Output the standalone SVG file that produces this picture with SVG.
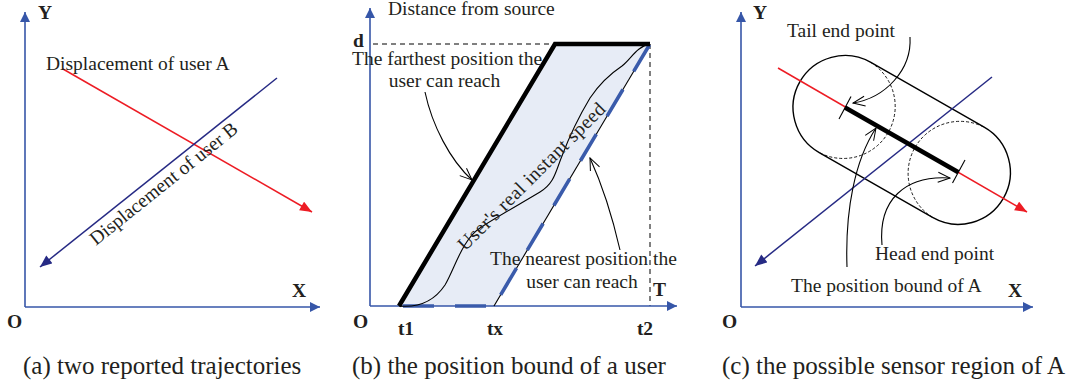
<svg xmlns="http://www.w3.org/2000/svg" width="1073" height="392" viewBox="0 0 1073 392">
<style>
.t{font-family:"Liberation Serif","Times New Roman",serif;font-size:19.5px;fill:#231f20}
.b{font-weight:bold}
.cap{font-size:25px}
.axis{stroke:#3656a8;stroke-width:1.6;fill:none}
.red{stroke:#ed1c24;stroke-width:1.5;fill:none}
.navy{stroke:#262a84;stroke-width:1.5;fill:none}
.thin{stroke:#000;stroke-width:1.1;fill:none}
.dash{stroke:#000;stroke-width:1;fill:none;stroke-dasharray:5 4}
</style>
<defs>
<marker id="ax" viewBox="0 0 10 10" refX="10" refY="5" markerWidth="11" markerHeight="10" markerUnits="userSpaceOnUse" orient="auto"><path d="M0,0 L10,5 L0,10 z" fill="#3656a8"/></marker>
<marker id="ar" viewBox="0 0 12 10" refX="12" refY="5" markerWidth="13" markerHeight="10" markerUnits="userSpaceOnUse" orient="auto"><path d="M0,0 L12,5 L0,10 z" fill="#ed1c24"/></marker>
<marker id="an" viewBox="0 0 12 10" refX="12" refY="5" markerWidth="13" markerHeight="10" markerUnits="userSpaceOnUse" orient="auto"><path d="M0,0 L12,5 L0,10 z" fill="#262a84"/></marker>
<marker id="ov" viewBox="-1 -1 14 12" refX="12" refY="5" markerWidth="14" markerHeight="12" markerUnits="userSpaceOnUse" orient="auto"><path d="M0,0 L12,5 L0,10" fill="none" stroke="#000" stroke-width="1"/></marker>
</defs>
<rect width="1073" height="392" fill="#fff"/>

<!-- Panel (a) -->
<g id="panel-a">
  <g id="a-axes">
    <line class="axis" x1="25" y1="307" x2="25" y2="12" marker-end="url(#ax)"/>
    <line class="axis" x1="25" y1="307" x2="320" y2="307" marker-end="url(#ax)"/>
    <text class="t b" x="38" y="19" font-size="20">Y</text>
    <text class="t b" x="292" y="297" font-size="20">X</text>
    <text class="t b" x="7" y="328" font-size="17">O</text>
  </g>
  <g id="a-connectors">
    <line class="red" x1="63" y1="69" x2="312" y2="212" marker-end="url(#ar)"/>
    <line class="navy" x1="277" y1="78" x2="40" y2="267" marker-end="url(#an)"/>
  </g>
  <g id="a-labelA"><text class="t" x="46" y="70">Displacement of user A</text></g>
  <g id="a-labelB"><text class="t" transform="translate(96,246) rotate(-38.7)">Displacement of user B</text></g>
  <g id="a-caption"><text class="t cap" x="23" y="374">(a) two reported trajectories</text></g>
</g>

<!-- Panel (b) -->
<g id="panel-b">
  <g id="b-region">
    <polygon points="399,306 555,44 650,44 494,306" fill="#e7ecf6"/>
  </g>
  <g id="b-guides">
    <line class="dash" x1="373" y1="44" x2="650" y2="44"/>
    <line class="dash" x1="650" y1="44" x2="650" y2="306"/>
  </g>
  <g id="b-axes">
    <line class="axis" x1="370" y1="306" x2="370" y2="8" marker-end="url(#ax)"/>
    <line class="axis" x1="370" y1="306" x2="677" y2="306" marker-end="url(#ax)"/>
    <text class="t" x="388" y="15">Distance from source</text>
    <text class="t b" x="353" y="47" font-size="18">d</text>
    <text class="t b" x="653" y="296" font-size="18">T</text>
    <text class="t b" x="353" y="328" font-size="17">O</text>
    <text class="t b" x="406" y="335" font-size="19" text-anchor="middle">t1</text>
    <text class="t b" x="495" y="335" font-size="19" text-anchor="middle">tx</text>
    <text class="t b" x="645" y="335" font-size="19" text-anchor="middle">t2</text>
  </g>
  <g id="b-bounds">
    <line class="thin" x1="494" y1="306" x2="650" y2="44"/>
    <path d="M399,306 L494,306 L650,44" fill="none" stroke="#3a5bab" stroke-width="3.6" stroke-dasharray="31 21" stroke-dashoffset="48"/>
    <path d="M399,306 L555,44 L650,44" fill="none" stroke="#000" stroke-width="4.5" stroke-linejoin="miter"/>
  </g>
  <g id="b-speed-curve">
    <path class="thin" d="M399,306 C420,308 435,300 445,285 C455,268 462,240 480,228 C495,218 520,204 540,192 C555,183 556,170 562,156 C568,140 578,118 590,98 C598,86 610,74 622,66 C632,58 636,47 650,44"/>
    <text class="t" transform="translate(536,181) rotate(-45)" text-anchor="middle" textLength="200" lengthAdjust="spacing">User's real instant speed</text>
  </g>
  <g id="b-farthest">
    <text class="t" x="352" y="65">The farthest position the</text>
    <text class="t" x="444.5" y="87" text-anchor="middle">user can reach</text>
  </g>
  <g id="b-nearest">
    <text class="t" x="490" y="265">The nearest position the</text>
    <text class="t" x="582" y="288" text-anchor="middle">user can reach</text>
  </g>
  <g id="b-connectors">
    <path class="thin" d="M425,92 C432,125 450,160 472,180" marker-end="url(#ov)"/>
    <path class="thin" d="M620,250 C612,215 600,180 590,158" marker-end="url(#ov)"/>
  </g>
  <g id="b-caption"><text class="t cap" x="352" y="374">(b) the position bound of a user</text></g>
</g>

<!-- Panel (c) -->
<g id="panel-c">
  <g id="c-axes">
    <line class="axis" x1="741" y1="307" x2="741" y2="12" marker-end="url(#ax)"/>
    <line class="axis" x1="741" y1="307" x2="1033" y2="307" marker-end="url(#ax)"/>
    <text class="t b" x="753" y="19" font-size="20">Y</text>
    <text class="t b" x="1008" y="297" font-size="20">X</text>
    <text class="t b" x="722" y="328" font-size="17">O</text>
  </g>
  <g id="c-region">
    <rect x="-117.25" y="-52" width="234.5" height="104" rx="52" ry="52" transform="translate(901.7,139.9) rotate(29.77)" fill="none" stroke="#000" stroke-width="1.4"/>
    <path d="M870.8,62.4 A52,52 0 0 1 819.2,152.6" fill="none" stroke="#000" stroke-width="0.9" stroke-dasharray="3 2"/>
    <path d="M932.5,217.4 A52,52 0 0 1 984.1,127.2" fill="none" stroke="#000" stroke-width="0.9" stroke-dasharray="3 2"/>
  </g>
  <g id="c-trajectories">
    <line class="red" x1="778" y1="68" x2="1027" y2="212" marker-end="url(#ar)"/>
    <line class="navy" x1="992" y1="77" x2="755" y2="266" marker-end="url(#an)"/>
  </g>
  <g id="c-bound">
    <line x1="845" y1="107.5" x2="958.3" y2="172.3" stroke="#000" stroke-width="4.5"/>
    <line class="thin" x1="839" y1="119" x2="851" y2="96.5"/>
    <line class="thin" x1="952.5" y1="183" x2="965" y2="160"/>
  </g>
  <g id="c-tail"><text class="t" x="787" y="37">Tail end point</text></g>
  <g id="c-head"><text class="t" x="875" y="260">Head end point</text></g>
  <g id="c-posbound"><text class="t" x="791" y="292">The position bound of A</text></g>
  <g id="c-connectors">
    <path class="thin" d="M910,37 C912,70 885,98 853,103" marker-end="url(#ov)"/>
    <path class="thin" d="M847,267 C845,210 855,160 876,128" marker-end="url(#ov)"/>
    <path class="thin" d="M882,245 C878,200 905,175 950,178" marker-end="url(#ov)"/>
  </g>
  <g id="c-caption"><text class="t cap" x="722" y="374">(c) the possible sensor region of A</text></g>
</g>
</svg>
